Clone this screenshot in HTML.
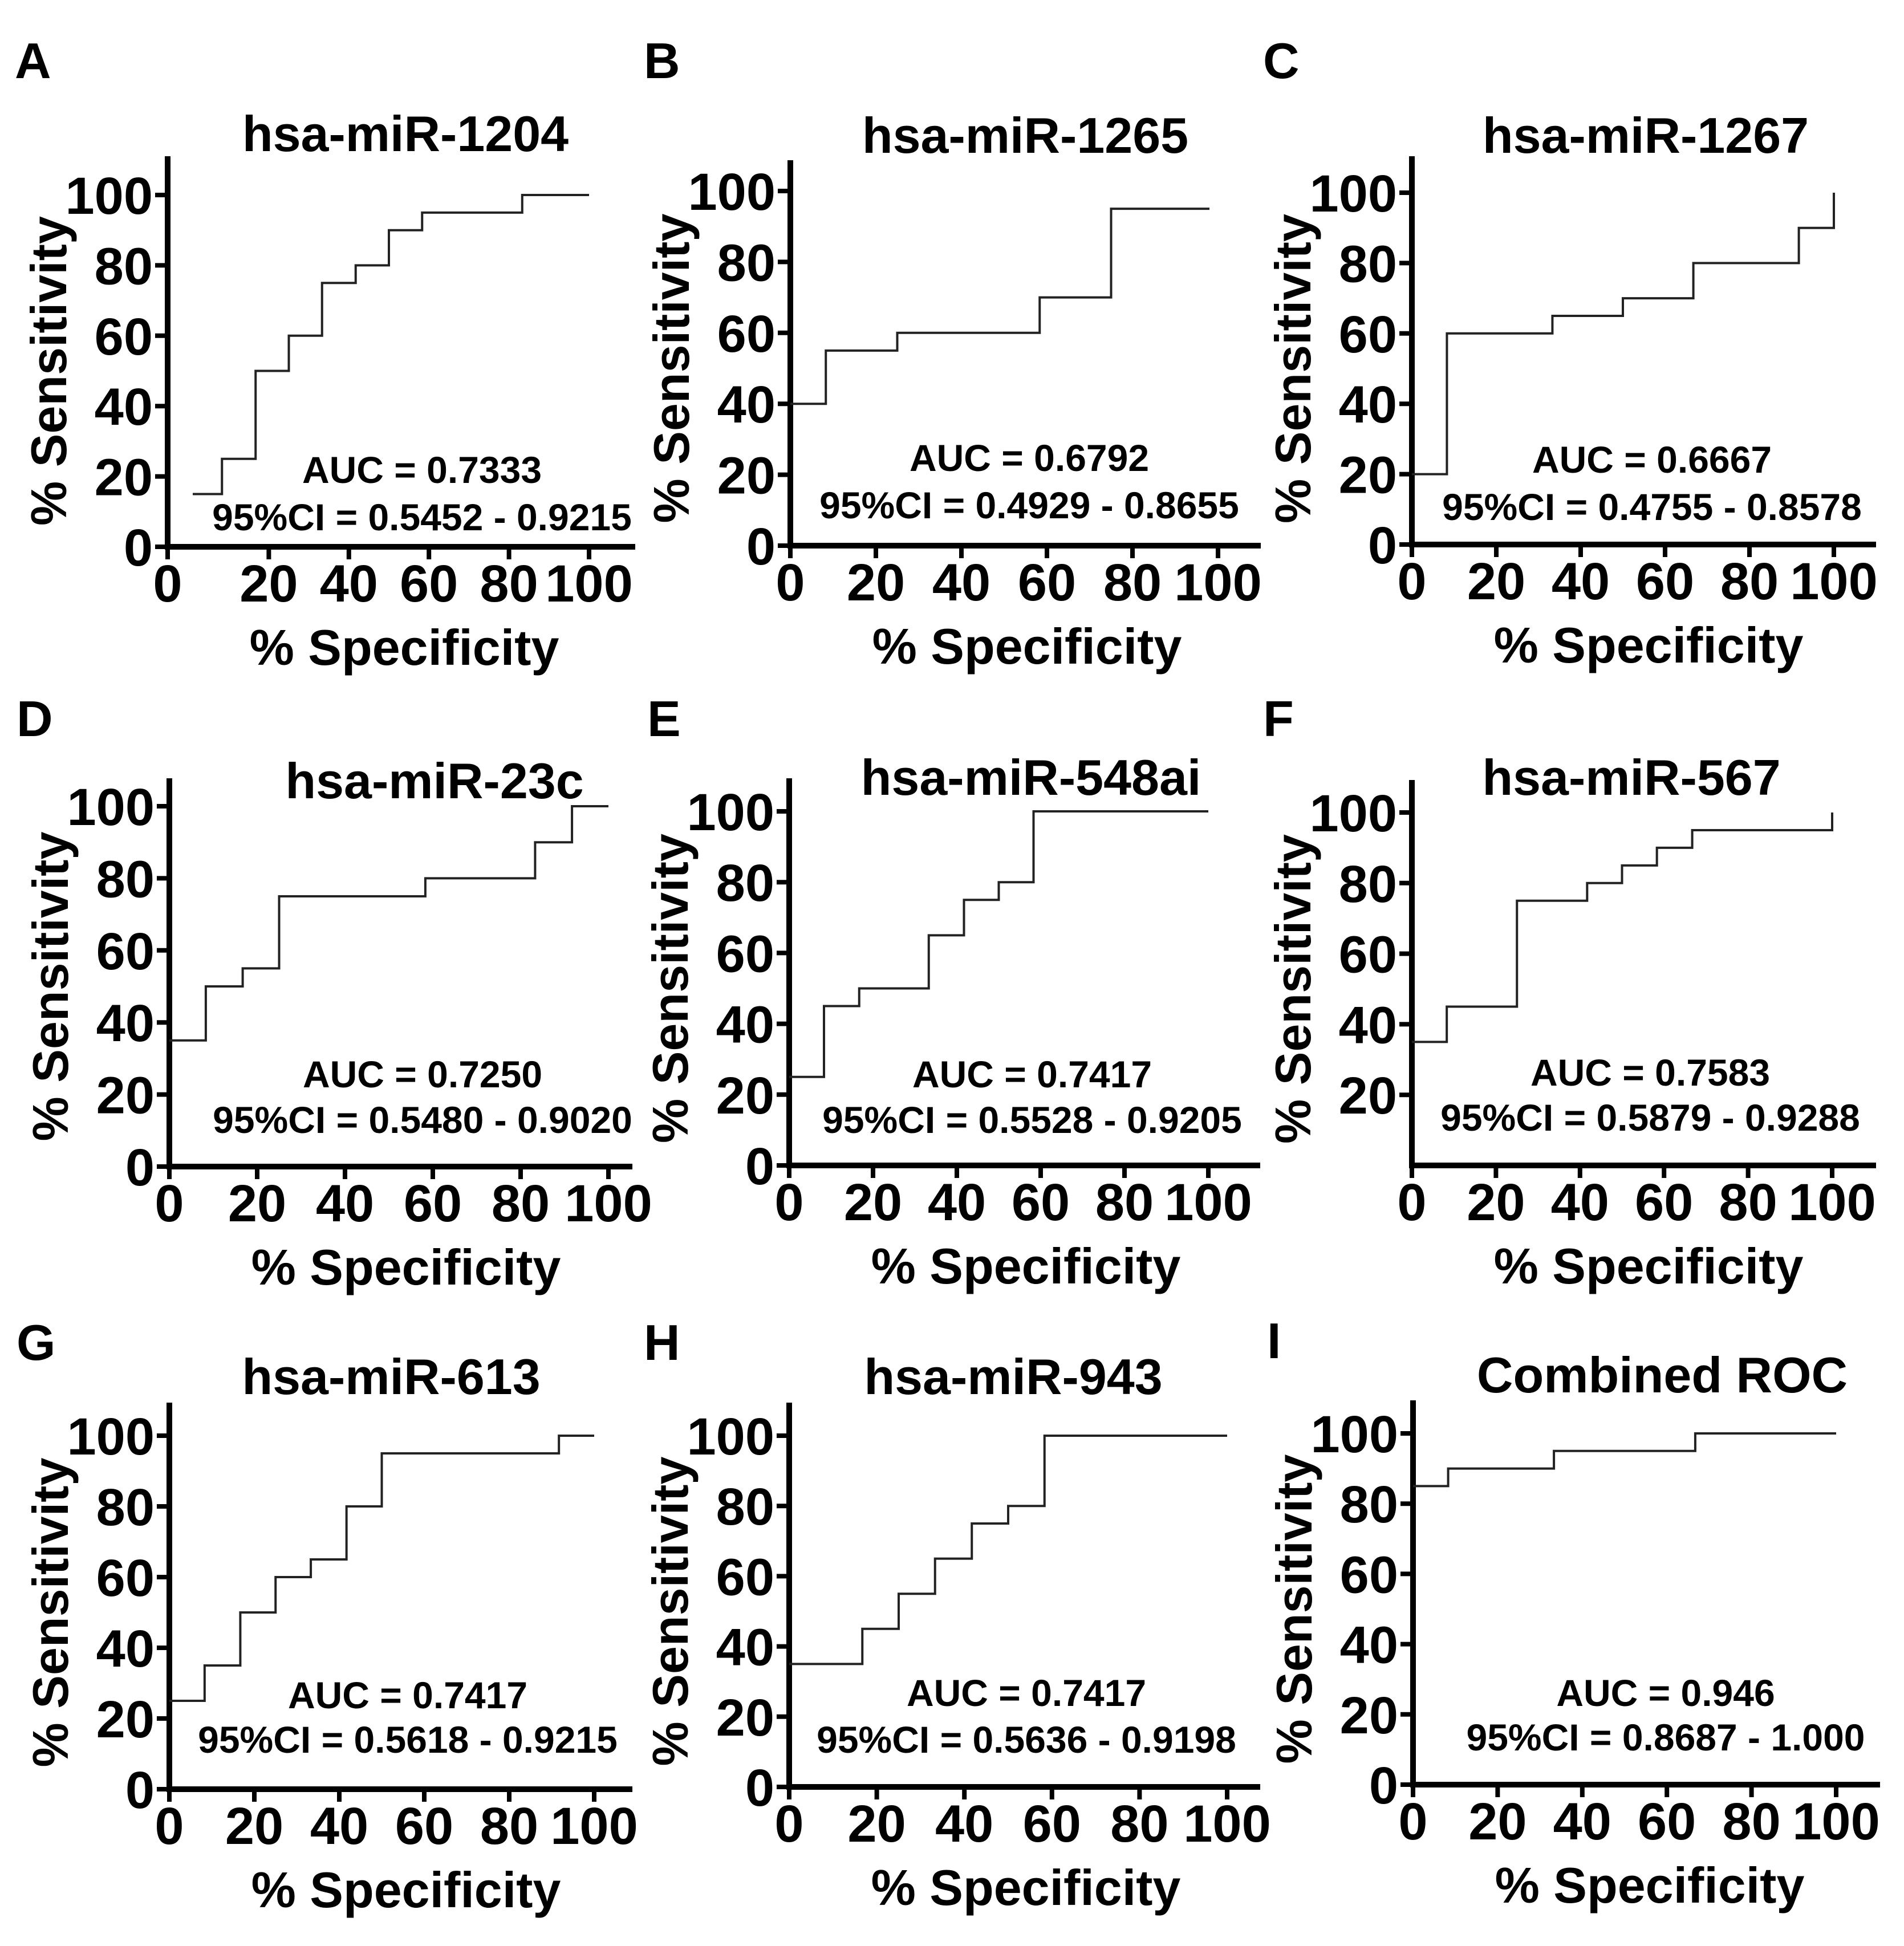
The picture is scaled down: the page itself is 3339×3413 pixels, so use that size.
<!DOCTYPE html>
<html><head><meta charset="utf-8"><style>
html,body{margin:0;padding:0;background:#fff}
svg{display:block}
text{font-family:"Liberation Sans",Arial,sans-serif;fill:#000}
</style></head><body>
<svg id="fig" width="3339" height="3413" viewBox="0 0 3339 3413" xmlns="http://www.w3.org/2000/svg"></svg>
<script>
// ---- data (specificity step boundaries, sensitivity levels) ----
const titles = ["hsa-miR-1204","hsa-miR-1265","hsa-miR-1267","hsa-miR-23c","hsa-miR-548ai","hsa-miR-567","hsa-miR-613","hsa-miR-943","Combined ROC"];
const letters = ["A","B","C","D","E","F","G","H","I"];
const aucLabels = ["AUC = 0.7333","AUC = 0.6792","AUC = 0.6667","AUC = 0.7250","AUC = 0.7417","AUC = 0.7583","AUC = 0.7417","AUC = 0.7417","AUC = 0.946"];
const ciLabels = ["95%CI = 0.5452 - 0.9215","95%CI = 0.4929 - 0.8655","95%CI = 0.4755 - 0.8578","95%CI = 0.5480 - 0.9020","95%CI = 0.5528 - 0.9205","95%CI = 0.5879 - 0.9288","95%CI = 0.5618 - 0.9215","95%CI = 0.5636 - 0.9198","95%CI = 0.8687 - 1.000"];
const specA = [1,8.3,16.7,25,33.3,41.7,50,58.3,83.3,100];
const sensA = [15,25,50,60,75,80,90,95,100];
const specB = [0,8.3,25,58.3,75,98];
const sensB = [40,55,60,70,95];
const specC = [0,8.3,33.3,50,66.7,91.7,100,100];
const sensC = [20,60,65,70,80,90,100];
const specD = [0,8.3,16.7,25,58.3,83.3,91.7,100];
const sensD = [35,50,55,75,80,90,100];
const specE = [0,8.3,16.7,33.3,41.7,50,58.3,100];
const sensE = [25,45,50,65,75,80,100];
const specF = [0,8.3,25,41.7,50,58.3,66.7,100,100];
const sensF = [35,45,75,80,85,90,95,100];
const specG = [0,8.3,16.7,25,33.3,41.7,50,91.7,100];
const sensG = [25,35,50,60,65,80,95,100];
const specH = [0,16.7,25,33.3,41.7,50,58.3,100];
const sensH = [35,45,55,65,75,80,100];
const specI = [0,8.3,33.3,66.7,100];
const sensI = [85,90,95,100];
const tickVals = [0,20,40,60,80,100];
const tickLabels = ["0","20","40","60","80","100"];

const specs=[specA,specB,specC,specD,specE,specF,specG,specH,specI];
const senss=[sensA,sensB,sensC,sensD,sensE,sensF,sensG,sensH,sensI];

// ---- geometry (pixels) ----
const geo = [
 {ax:294,ay:959,y100:342,x0:331,k:7.02,top:274,xend:1114,lx:26,ly:137,tx:711,ty:265,aucY:847,ciY:930,cx:740,noY0:false},
 {ax:1386,ay:957,y100:335,x0:1386,k:7.5,top:281,xend:2211,lx:1129,ly:137,tx:1798,ty:268,aucY:826,ciY:909,cx:1805,noY0:false},
 {ax:2476,ay:955,y100:338,x0:2476,k:7.4,top:274,xend:3290,lx:2215,ly:137,tx:2886,ty:268,aucY:829,ciY:912,cx:2897,noY0:false},
 {ax:297,ay:2046,y100:1414,x0:297,k:7.7,top:1365,xend:1109,lx:29,ly:1291,tx:762,ty:1400,aucY:1907,ciY:1987,cx:741,noY0:false},
 {ax:1384,ay:2044,y100:1423,x0:1384,k:7.35,top:1365,xend:2210,lx:1135,ly:1291,tx:1808,ty:1394,aucY:1907,ciY:1987,cx:1810,noY0:false},
 {ax:2476,ay:2044,y100:1425,x0:2476,k:7.37,top:1368,xend:3290,lx:2215,ly:1291,tx:2861,ty:1394,aucY:1904,ciY:1983,cx:2894,noY0:true},
 {ax:297,ay:3138,y100:2518,x0:297,k:7.45,top:2460,xend:1109,lx:29,ly:2385,tx:686,ty:2445,aucY:2996,ciY:3074,cx:715,noY0:false},
 {ax:1384,ay:3134,y100:2518,x0:1384,k:7.68,top:2460,xend:2210,lx:1129,ly:2385,tx:1777,ty:2445,aucY:2992,ciY:3074,cx:1800,noY0:false},
 {ax:2478,ay:3130,y100:2514,x0:2478,k:7.42,top:2456,xend:3297,lx:2222,ly:2382,tx:2915,ty:2442,aucY:2992,ciY:3070,cx:2921,noY0:false}
];

const NS="http://www.w3.org/2000/svg";
const svg=document.getElementById('fig');
function mk(tag,attrs,parent,txt){const e=document.createElementNS(NS,tag);for(const k in attrs)e.setAttribute(k,attrs[k]);if(txt!==undefined)e.textContent=txt;parent.appendChild(e);return e;}

geo.forEach((g,p)=>{
  const grp=mk('g',{},svg);
  
  
  const xs=v=>Math.max(g.ax, g.x0+v*g.k);
  const xt=v=>(v===0?g.ax:xs(v));
  const ys=v=>g.ay-v*(g.ay-g.y100)/100;
  let t;
  t=mk('text',{x:g.lx,y:g.ly,'font-size':88,'font-weight':'bold'},grp,letters[p]);
  
  
  t=mk('text',{x:g.tx,y:g.ty,'font-size':88,'font-weight':'bold','text-anchor':'middle'},grp,titles[p]);
  
  
  let l=mk('line',{x1:g.ax,y1:g.top,x2:g.ax,y2:g.ay+5,stroke:'#000','stroke-width':10},grp);
  
  
  l=mk('line',{x1:g.ax-5,y1:g.ay,x2:g.xend,y2:g.ay,stroke:'#000','stroke-width':10},grp);
  
  
  tickVals.forEach((v,i)=>{
    const px=xt(v);
    let tk=mk('line',{x1:px,y1:g.ay,x2:px,y2:g.ay+22,stroke:'#000','stroke-width':8},grp);
    
    
    let tl=mk('text',{x:px,y:g.ay+96,'font-size':92,'font-weight':'bold','text-anchor':'middle'},grp,tickLabels[i]);
    
    
    if(g.noY0 && v===0) return;
    const py=ys(v);
    tk=mk('line',{x1:g.ax-22,y1:py,x2:g.ax,y2:py,stroke:'#000','stroke-width':8},grp);
    
    
    tl=mk('text',{x:g.ax-26,y:py+33,'font-size':92,'font-weight':'bold','text-anchor':'end'},grp,tickLabels[i]);
    
    
  });
  t=mk('text',{x:g.ax+415,y:g.ay+207,'font-size':88,'font-weight':'bold','text-anchor':'middle'},grp,'% Specificity');
  
  
  const cy=(g.ay+g.y100)/2;
  t=mk('text',{x:0,y:0,'font-size':88,'font-weight':'bold','text-anchor':'middle',transform:`translate(${g.ax-178},${cy}) rotate(-90)`},grp,'% Sensitivity');
  
  
  const sp=specs[p], se=senss[p];
  let d=`M${xs(sp[0])},${ys(se[0])}`;
  for(let i=0;i<se.length;i++){
    d+=` H${xs(sp[i+1])}`;
    if(i+1<se.length) d+=` V${ys(se[i+1])}`;
  }
  const path=mk('path',{d:d,fill:'none',stroke:'#222','stroke-width':4},grp);
  
  
  t=mk('text',{x:g.cx,y:g.aucY,'font-size':66,'font-weight':'bold','text-anchor':'middle'},grp,aucLabels[p]);
  
  
  t=mk('text',{x:g.cx,y:g.ciY,'font-size':66,'font-weight':'bold','text-anchor':'middle'},grp,ciLabels[p]);
  
  
});
</script>
</body></html>
